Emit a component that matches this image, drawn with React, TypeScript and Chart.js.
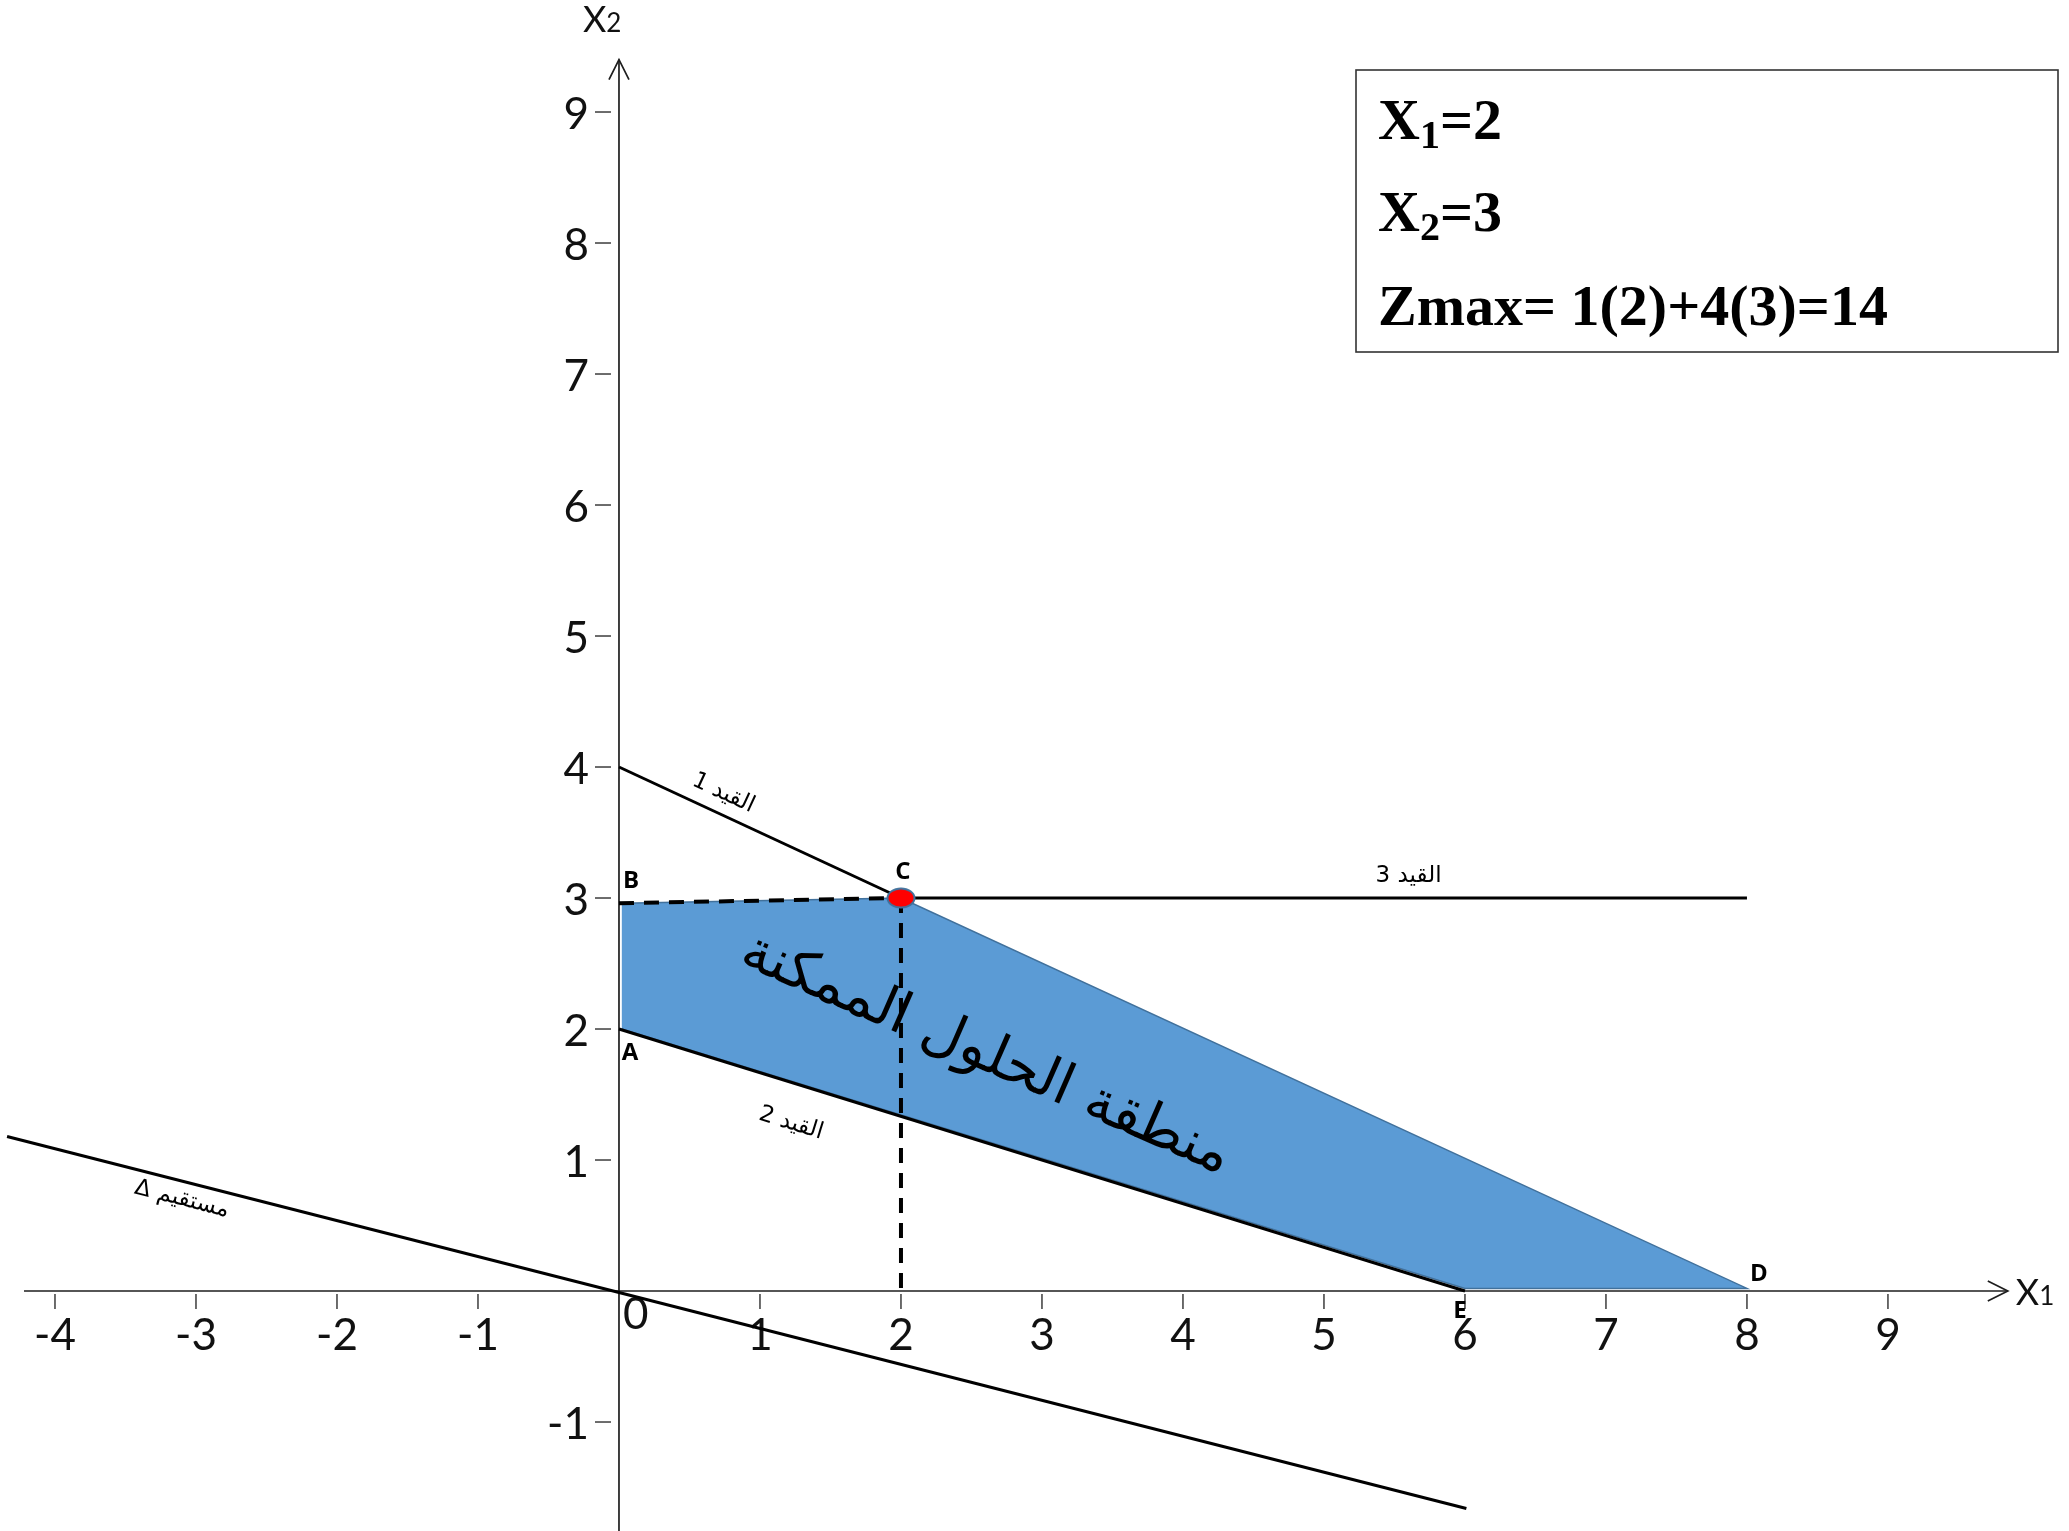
import React, { useEffect, useRef } from "react";
import { Chart, registerables } from "chart.js";

Chart.register(...registerables);

// ---------------- data ----------------
const xTickValues = [-4, -3, -2, -1, 1, 2, 3, 4, 5, 6, 7, 8, 9];
const yTickValues = [-1, 1, 2, 3, 4, 5, 6, 7, 8, 9];
const originLabel = "0";
const xAxisExtent = [-4.22, 9.85];
const yAxisExtent = [-1.9, 9.4];

const constraint1X = [0, 2];
const constraint1Y = [4, 3];
const constraint2X = [0, 6];
const constraint2Y = [2, 0];
const constraint3X = [2, 8];
const constraint3Y = [3, 3];
const objectiveX = [-4.34, 6.01];
const objectiveY = [1.18, -1.66];
const regionX = [0.02, 2, 8, 6, 0.02];
const regionY = [2.96, 3, 0.02, 0.02, 2];
const segmentBCX = [0, 2];
const segmentBCY = [2.96, 3];
const dropCX = [2, 2];
const dropCY = [3, 0];
const optimumX = [2];
const optimumY = [3];

const vertexNames = ["A", "B", "C", "D", "E"];
const vertexX = [0, 0, 2, 8, 6];
const vertexY = [2, 3, 3, 0, 0];

const lineLabelTexts = ["القيد 1", "القيد 2", "القيد 3", "مستقيم Δ"];
const lineLabelX = [0.74, 1.22, 5.6, -3.1];
const lineLabelY = [3.8, 1.28, 3.17, 0.7];
const regionLabelText = "منطقة الحلول الممكنة";
const regionLabelX = 2.6;
const regionLabelY = 1.8;

const resultMain = ["X", "X", "Zmax= 1(2)+4(3)=14"];
const resultSub = ["1", "2", ""];
const resultTail = ["=2", "=3", ""];

const axisTitleX = ["X", "1"];
const axisTitleY = ["X", "2"];

// ---------------- helpers ----------------
const zip = (xs: number[], ys: number[]) => xs.map((x, i) => ({ x, y: ys[i] }));

const W = 2069;
const H = 1531;

function drawSub(ctx: CanvasRenderingContext2D, x: number, y: number, main: string, sub: string, tail: string, font: string, subFont: string, drop: number) {
  ctx.font = font;
  ctx.fillText(main, x, y);
  let w = ctx.measureText(main).width;
  if (sub) {
    ctx.font = subFont;
    ctx.fillText(sub, x + w, y + drop);
    w += ctx.measureText(sub).width;
  }
  if (tail) {
    ctx.font = font;
    ctx.fillText(tail, x + w, y);
  }
}

function makeEllipseMarker() {
  const c = document.createElement("canvas");
  c.width = 30;
  c.height = 22;
  const g = c.getContext("2d")!;
  g.beginPath();
  g.ellipse(15, 11, 13.5, 9.5, 0, 0, Math.PI * 2);
  g.fillStyle = "#FF0000";
  g.fill();
  g.lineWidth = 2;
  g.strokeStyle = "#41719C";
  g.stroke();
  return c;
}

const overlayPlugin = {
  id: "lpOverlay",
  beforeDatasetsDraw(chart: any) {
    const ctx: CanvasRenderingContext2D = chart.ctx;
    const xs = chart.scales.x;
    const ys = chart.scales.y;
    const px = (v: number) => xs.getPixelForValue(v);
    const py = (v: number) => ys.getPixelForValue(v);
    ctx.save();
    ctx.strokeStyle = "#1e1e1e";
    ctx.fillStyle = "#111";
    ctx.lineWidth = 1.7;
    ctx.lineCap = "butt";
    const ox = px(0);
    const oy = py(0);
    // x axis
    ctx.beginPath();
    ctx.moveTo(px(xAxisExtent[0]), oy);
    ctx.lineTo(px(xAxisExtent[1]), oy);
    ctx.stroke();
    const xe = px(xAxisExtent[1]);
    ctx.beginPath();
    ctx.moveTo(xe - 20, oy - 10);
    ctx.lineTo(xe, oy);
    ctx.lineTo(xe - 20, oy + 10);
    ctx.stroke();
    // y axis
    ctx.beginPath();
    ctx.moveTo(ox, py(yAxisExtent[0]));
    ctx.lineTo(ox, py(yAxisExtent[1]));
    ctx.stroke();
    const ye = py(yAxisExtent[1]);
    ctx.beginPath();
    ctx.moveTo(ox - 10, ye + 20);
    ctx.lineTo(ox, ye);
    ctx.lineTo(ox + 10, ye + 20);
    ctx.stroke();

    // ticks + labels
    ctx.lineWidth = 1.3;
    ctx.font = "44px Lato";
    ctx.textAlign = "center";
    ctx.textBaseline = "middle";
    for (const v of xTickValues) {
      const x = px(v);
      ctx.beginPath();
      ctx.moveTo(x, oy + 3);
      ctx.lineTo(x, oy + 18);
      ctx.stroke();
      ctx.fillText(String(v), x, oy + 45);
    }
    ctx.textAlign = "right";
    for (const v of yTickValues) {
      const y = py(v);
      ctx.beginPath();
      ctx.moveTo(ox - 24, y);
      ctx.lineTo(ox - 8, y);
      ctx.stroke();
      ctx.fillText(String(v), ox - 30, y + 3);
    }
    ctx.textAlign = "left";
    ctx.fillText(originLabel, ox + 4, oy + 24);

    // axis titles
    ctx.textBaseline = "alphabetic";
    ctx.textAlign = "left";
    drawSub(ctx, xe + 8, oy + 14, axisTitleX[0], axisTitleX[1], "", "36px Lato", "26px Lato", 0);
    drawSub(ctx, ox - 36, ye - 28, axisTitleY[0], axisTitleY[1], "", "36px Lato", "26px Lato", 0);
    ctx.restore();
  },
  afterDatasetsDraw(chart: any) {
    const ctx: CanvasRenderingContext2D = chart.ctx;
    const xs = chart.scales.x;
    const ys = chart.scales.y;
    const px = (v: number) => xs.getPixelForValue(v);
    const py = (v: number) => ys.getPixelForValue(v);
    ctx.save();
    ctx.fillStyle = "#000";

    // vertex letters
    const offs = [
      [11, 24],
      [12, -17],
      [2, -26],
      [12, -17],
      [-5, 20],
    ];
    ctx.font = "bold 24px 'Open Sans'";
    ctx.textAlign = "center";
    ctx.textBaseline = "middle";
    vertexNames.forEach((n, i) => {
      ctx.fillText(n, px(vertexX[i]) + offs[i][0], py(vertexY[i]) + offs[i][1]);
    });

    // line labels (rotated along their lines)
    const ang = (xsA: number[], ysA: number[]) =>
      Math.atan2(py(ysA[1]) - py(ysA[0]), px(xsA[1]) - px(xsA[0]));
    const angles = [
      ang(constraint1X, constraint1Y),
      ang(constraint2X, constraint2Y),
      ang(constraint3X, constraint3Y),
      ang(objectiveX, objectiveY),
    ];
    ctx.font = "23px 'DejaVu Sans'";
    (ctx as any).direction = "rtl";
    lineLabelTexts.forEach((t, i) => {
      ctx.save();
      ctx.translate(px(lineLabelX[i]), py(lineLabelY[i]));
      ctx.rotate(angles[i]);
      ctx.textAlign = "center";
      ctx.fillText(t, 0, 0);
      ctx.restore();
    });

    // region label
    ctx.save();
    ctx.translate(px(regionLabelX), py(regionLabelY));
    ctx.rotate((23.6 * Math.PI) / 180);
    ctx.font = "57px 'DejaVu Sans'";
    ctx.textAlign = "center";
    ctx.fillText(regionLabelText, 0, 0);
    ctx.restore();
    (ctx as any).direction = "ltr";

    // result box
    ctx.strokeStyle = "#333";
    ctx.lineWidth = 1.6;
    ctx.strokeRect(1356, 70, 702, 282);
    ctx.textAlign = "left";
    ctx.textBaseline = "alphabetic";
    const baselines = [139, 231, 325];
    resultMain.forEach((m, i) => {
      drawSub(ctx, 1378, baselines[i], m, resultSub[i], resultTail[i], "bold 58px 'Liberation Serif'", "bold 40px 'Liberation Serif'", 9);
    });
    ctx.restore();
  },
};

export default function App() {
  const ref = useRef<HTMLCanvasElement | null>(null);
  useEffect(() => {
    document.body.style.margin = "0";
    const canvas = ref.current;
    if (!canvas) return;
    const solid = (xs: number[], ys: number[], order: number) => ({
      data: zip(xs, ys),
      borderColor: "#000",
      borderWidth: 3,
      pointRadius: 0,
      fill: false,
      tension: 0,
      order,
    });
    const dashed = (xs: number[], ys: number[], order: number) => ({
      ...solid(xs, ys, order),
      borderWidth: 4,
      borderDash: [15, 10],
    });
    const chart = new Chart(canvas, {
      type: "line",
      data: {
        datasets: [
          {
            label: "region",
            data: zip(regionX, regionY),
            borderColor: "#41719C",
            borderWidth: 1.5,
            backgroundColor: "#5B9BD5",
            pointRadius: 0,
            fill: "shape",
            tension: 0,
            order: 10,
          } as any,
          { label: "c1", ...solid(constraint1X, constraint1Y, 3) },
          { label: "c2", ...solid(constraint2X, constraint2Y, 3) },
          { label: "c3", ...solid(constraint3X, constraint3Y, 3) },
          { label: "obj", ...solid(objectiveX, objectiveY, 3) },
          { label: "bc", ...dashed(segmentBCX, segmentBCY, 2) },
          { label: "drop", ...dashed(dropCX, dropCY, 2) },
          {
            label: "opt",
            data: zip(optimumX, optimumY),
            showLine: false,
            pointStyle: makeEllipseMarker(),
            pointRadius: 11,
            order: 0,
          } as any,
        ],
      },
      options: {
        animation: false,
        responsive: false,
        maintainAspectRatio: false,
        layout: { padding: 0, autoPadding: false },
        events: [],
        plugins: { legend: { display: false }, tooltip: { enabled: false } },
        scales: {
          x: { type: "linear", min: -4.39, max: 10.284, display: false },
          y: { type: "linear", min: -1.832, max: 9.855, display: false },
        },
      },
      plugins: [overlayPlugin],
    } as any);
    return () => chart.destroy();
  }, []);
  return (
    <div style={{ position: "absolute", left: 0, top: 0, width: W, height: H, background: "#fff" }}>
      <canvas ref={ref} width={W} height={H} style={{ display: "block", width: W, height: H }} />
    </div>
  );
}
